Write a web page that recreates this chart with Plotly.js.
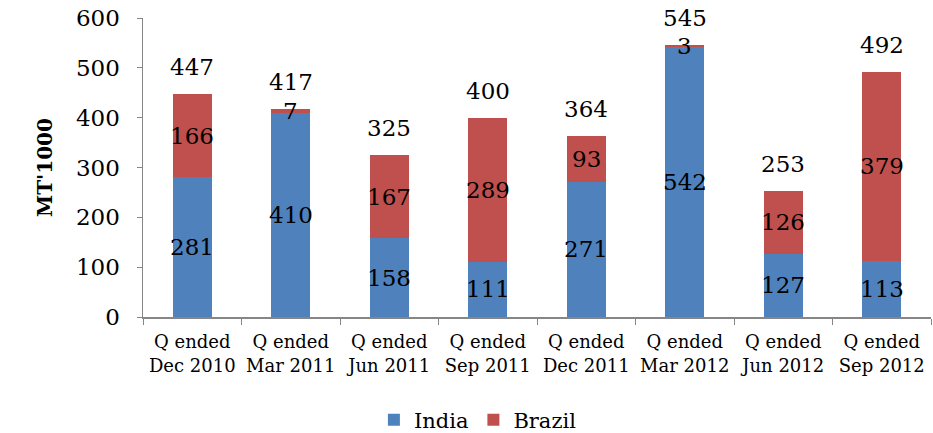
<!DOCTYPE html>
<html><head><meta charset="utf-8">
<script src="https://cdn.plot.ly/plotly-3.0.1.min.js"></script>
<style>html,body{margin:0;padding:0;background:#fff}#c{width:933px;height:433px}</style>
</head><body><div id="c"></div>
<script>
const categories = ["Q ended<br>Dec 2010","Q ended<br>Mar 2011","Q ended<br>Jun 2011","Q ended<br>Sep 2011","Q ended<br>Dec 2011","Q ended<br>Mar 2012","Q ended<br>Jun 2012","Q ended<br>Sep 2012"];
const india = [281,410,158,111,271,542,127,113];
const brazil = [166,7,167,289,93,3,126,379];
const totals = [447,417,325,400,364,545,253,492];

const FONT = "DejaVu Serif, serif";
const ann = [];
categories.forEach((c,i)=>{
  ann.push({x:c,y:india[i]/2,text:String(india[i]),showarrow:false,yanchor:'middle',font:{family:FONT,size:23,color:'#000'}});
  ann.push({x:c,y:india[i]+brazil[i]/2,text:String(brazil[i]),showarrow:false,yanchor:'middle',font:{family:FONT,size:23,color:'#000'}});
  ann.push({x:c,y:totals[i],text:String(totals[i]),showarrow:false,yanchor:'middle',yshift:27,font:{family:FONT,size:23,color:'#000'}});
});

const data = [
  {type:'bar',name:'India',x:categories,y:india,marker:{color:'#4F81BD'},width:0.4,hoverinfo:'none'},
  {type:'bar',name:'Brazil',x:categories,y:brazil,marker:{color:'#C0504D'},width:0.4,hoverinfo:'none'}
];
const layout = {
  width:933,height:433,barmode:'stack',
  margin:{l:143,r:2,t:18,b:116,autoexpand:false},
  paper_bgcolor:'#fff',plot_bgcolor:'#fff',
  font:{family:FONT,color:'#000'},
  showlegend:true,
  legend:{orientation:'h',x:0.425,xanchor:'center',y:-0.345,yanchor:'middle',font:{family:FONT,size:21,color:'#000'},itemwidth:30,traceorder:'normal'},
  xaxis:{type:'category',automargin:false,showline:true,linecolor:'#868686',linewidth:1.5,ticks:'outside',tickson:'boundaries',ticklen:6,tickcolor:'#868686',tickfont:{family:FONT,size:18,color:'#000'},ticklabelstandoff:8,showgrid:false,zeroline:false},
  yaxis:{range:[0,600],dtick:100,automargin:false,showline:true,linecolor:'#868686',linewidth:1.5,ticks:'outside',ticklen:5,tickcolor:'#868686',tickfont:{family:FONT,size:23,color:'#000'},ticklabelstandoff:12,showgrid:false,zeroline:false,
    title:{text:"<b>MT'1000</b>",font:{family:FONT,size:20,color:'#000'},standoff:18}},
  annotations:ann
};
Plotly.newPlot('c',data,layout,{staticPlot:true,displayModeBar:false});
</script></body></html>
